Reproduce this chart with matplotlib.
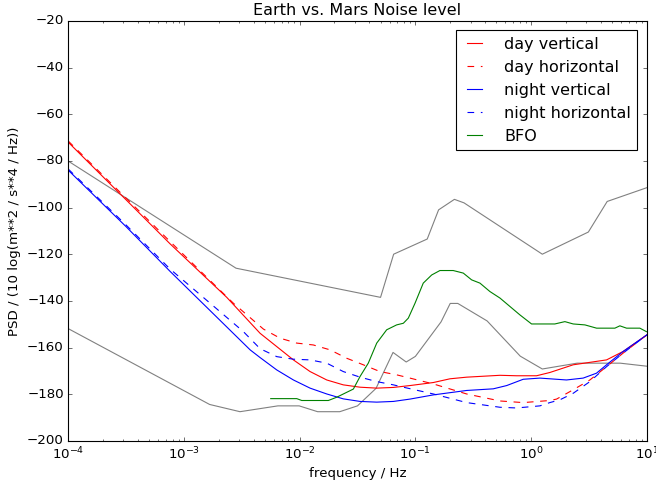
import numpy as np
import matplotlib
matplotlib.use('Agg')
import matplotlib.pyplot as plt

plt.style.use('classic')

# Peterson low / high noise models (frequency in Hz, dB)
nlnm_f = [10.0, 5.882, 2.5, 1.25, 0.806, 0.4167, 0.2326, 0.2, 0.1667, 0.1, 0.0833,
          0.0641, 0.0457, 0.0316, 0.0222, 0.01429, 0.0099, 0.00649, 0.00305, 0.001667, 0.0001]
nlnm_db = [-168.0, -166.7, -166.7, -169.2, -163.7, -148.6, -141.1, -141.1, -149.0, -163.8, -166.2,
           -162.1, -177.5, -185.0, -187.5, -187.5, -185.0, -185.0, -187.5, -184.4, -151.9]

nhnm_f = [10.0, 4.545, 3.125, 1.25, 0.2632, 0.2174, 0.1587, 0.1266, 0.0649, 0.05, 0.002818, 0.0001]
nhnm_db = [-91.5, -97.4, -110.5, -120.0, -98.0, -96.5, -101.0, -113.5, -120.0, -138.5, -126.0, -80.1]

day_v_logf = [-4.0, -3.5, -3.119, -2.63, -2.342, -2.198, -2.054, -1.91, -1.766, -1.623, -1.478,
              -1.334, -1.19, -1.047, -0.845, -0.701, -0.557, -0.269, -0.125, 0.047, 0.162,
              0.364, 0.652, 0.795, 1.0]
day_v_db = [-72.0, -96.7, -115.6, -138.5, -153.9, -159.6, -165.3, -170.3, -173.9, -176.0, -177.0,
            -177.4, -177.1, -176.3, -175.0, -173.4, -172.7, -171.9, -172.1, -172.1, -170.7,
            -167.4, -165.3, -161.7, -154.6]

day_h_logf = [-4.0, -3.5, -3.119, -2.573, -2.313, -2.169, -2.025, -1.882, -1.737, -1.593, -1.45,
              -1.306, -1.162, -1.047, -0.845, -0.557, -0.269, -0.068, 0.162, 0.22, 0.364,
              0.508, 0.652, 0.795, 1.0]
day_h_db = [-71.5, -96.0, -114.6, -141.0, -152.1, -156.0, -158.1, -158.9, -161.0, -164.6, -167.4,
            -170.3, -171.7, -173.1, -175.6, -179.9, -182.9, -183.6, -182.7, -182.1, -178.1,
            -173.9, -168.2, -162.4, -154.6]

night_v_logf = [-4.0, -3.5, -3.119, -2.428, -2.342, -2.198, -2.054, -1.91, -1.766, -1.623, -1.478,
                -1.334, -1.19, -1.047, -0.845, -0.557, -0.327, -0.211, -0.068, 0.076, 0.306,
                0.45, 0.565, 0.652, 0.795, 1.0]
night_v_db = [-84.0, -108.2, -127.4, -161.0, -164.3, -169.6, -173.9, -177.4, -179.9, -182.0, -183.1,
              -183.4, -183.1, -182.1, -180.3, -178.4, -177.7, -176.3, -173.6, -173.1, -173.9,
              -173.1, -171.0, -167.4, -161.7, -154.6]

night_h_logf = [-4.0, -3.5, -3.119, -2.774, -2.486, -2.342, -2.198, -2.054, -1.91, -1.766, -1.623,
                -1.478, -1.334, -1.19, -1.104, -0.845, -0.557, -0.269, -0.125, 0.076, 0.162,
                0.249, 0.364, 0.508, 0.652, 0.795, 1.0]
night_h_db = [-83.5, -107.5, -126.4, -141.0, -153.2, -160.5, -163.9, -165.0, -165.3, -166.7, -170.3,
              -172.7, -174.6, -176.0, -177.0, -179.9, -183.6, -185.6, -185.9, -185.0, -183.6,
              -182.4, -179.6, -174.6, -168.2, -162.4, -154.6]

bfo_logf = [-2.25, -2.025, -1.982, -1.752, -1.68, -1.536, -1.478, -1.407, -1.334, -1.248, -1.162,
            -1.104, -1.061, -1.003, -0.932, -0.859, -0.788, -0.673, -0.586, -0.514, -0.442,
            -0.356, -0.269, -0.183, -0.097, 0.004, 0.205, 0.292, 0.364, 0.465, 0.566, 0.724,
            0.767, 0.825, 0.94, 0.997]
bfo_db = [-181.9, -181.9, -182.7, -182.7, -181.3, -177.8, -172.4, -166.7, -158.1, -152.4, -150.3,
          -149.6, -147.4, -141.0, -132.4, -128.9, -127.0, -127.0, -128.1, -131.0, -132.4,
          -136.0, -138.8, -142.4, -146.0, -149.9, -149.9, -148.9, -149.9, -150.3, -151.7, -151.7,
          -150.7, -151.7, -151.7, -153.2]

fig, ax = plt.subplots(figsize=(8.2, 6.0625), dpi=80)
fig.subplots_adjust(left=0.104, right=0.986, bottom=0.091, top=0.957)

ax.semilogx(nlnm_f, nlnm_db, color='gray')
ax.semilogx(nhnm_f, nhnm_db, color='gray')

l1, = ax.semilogx(10 ** np.array(day_v_logf), day_v_db, color='r', ls='-')
l2, = ax.semilogx(10 ** np.array(day_h_logf), day_h_db, color='r', ls='--')
l3, = ax.semilogx(10 ** np.array(night_v_logf), night_v_db, color='b', ls='-')
l4, = ax.semilogx(10 ** np.array(night_h_logf), night_h_db, color='b', ls='--')
l5, = ax.semilogx(10 ** np.array(bfo_logf), bfo_db, color='g', ls='-')

ax.set_xlim(1e-4, 10)
ax.set_ylim(-200, -20)
ax.set_xlabel('frequency / Hz')
ax.set_ylabel('PSD / (10 log(m**2 / s**4 / Hz))')
ax.set_title('Earth vs. Mars Noise level')
ax.legend([l1, l2, l3, l4, l5],
          ['day vertical', 'day horizontal', 'night vertical', 'night horizontal', 'BFO'],
          loc='upper right', fontsize=14.4, handlelength=1.5, handletextpad=1.1,
          borderpad=0.4, borderaxespad=0.6)

fig.savefig('out.png', dpi=80, facecolor='white')
